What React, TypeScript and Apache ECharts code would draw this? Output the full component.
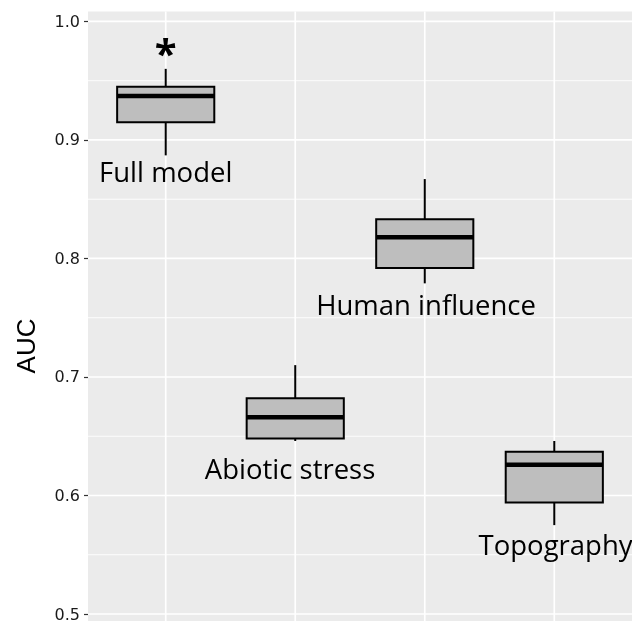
import React, { useEffect, useRef } from "react";
import * as echarts from "echarts";

// ---- data (in x-axis order) ----
const categories = ["Full model", "Abiotic stress", "Human influence", "Topography"];
const categoryPos = [1, 2, 3, 4];
const whiskerLow = [0.887, 0.646, 0.779, 0.575];
const q1 = [0.915, 0.648, 0.792, 0.594];
const medians = [0.937, 0.666, 0.818, 0.626];
const q3 = [0.945, 0.682, 0.833, 0.637];
const whiskerHigh = [0.96, 0.71, 0.867, 0.646];
const labelX = [1.0, 1.96, 3.01, 4.01];
const labelY = [0.873, 0.623, 0.761, 0.559];
const significance = ["*", "", "", ""];
const significanceY = [0.974, 0, 0, 0];
const yTicks = [0.5, 0.6, 0.7, 0.8, 0.9, 1.0];
const yMinorTicks = [0.55, 0.65, 0.75, 0.85, 0.95];

const Y_MIN = 0.4941;
const Y_MAX = 1.0084;
const X_MIN = 0.4;
const X_MAX = 4.6;
const BOX_WIDTH = 0.75;

export default function App() {
  const ref = useRef<HTMLDivElement>(null);

  useEffect(() => {
    if (!ref.current) return;
    const chart = echarts.init(ref.current, undefined, { renderer: "svg" });

    const boxData = categoryPos.map((x, i) => [
      x,
      whiskerLow[i],
      q1[i],
      medians[i],
      q3[i],
      whiskerHigh[i],
    ]);
    const labelData = categoryPos.map((x, i) => [labelX[i], labelY[i], i, x]);

    const option: any = {
      animation: false,
      grid: {
        left: 88,
        right: 0,
        top: 11.5,
        bottom: 0,
        show: true,
        backgroundColor: "#EBEBEB",
        borderWidth: 0,
      },
      xAxis: {
        type: "value",
        min: X_MIN,
        max: X_MAX,
        show: false,
        splitLine: { show: false },
      },
      yAxis: {
        type: "value",
        min: Y_MIN,
        max: Y_MAX,
        axisLine: { show: false },
        splitLine: { show: false },
        axisTick: {
          show: true,
          length: 4,
          customValues: yTicks,
          lineStyle: { color: "#333333", width: 1.2 },
        },
        axisLabel: {
          customValues: yTicks,
          formatter: (v: number) => v.toFixed(1),
          color: "#1a1a1a",
          fontSize: 16,
          fontFamily: "DejaVu Sans",
          margin: 8,
        },
      },
      graphic: [
        {
          type: "text",
          x: 26,
          y: 346,
          rotation: Math.PI / 2,
          style: {
            text: "AUC",
            fill: "#000",
            fontSize: 26,
            fontFamily: "Liberation Sans",
            align: "center",
            verticalAlign: "middle",
          },
        },
      ],
      series: [
        // horizontal grid lines (minor)
        {
          type: "custom",
          z: 1,
          silent: true,
          data: yMinorTicks.map((v) => [v]),
          renderItem: (params: any, api: any) => {
            const cs = params.coordSys;
            const p = api.coord([X_MIN, api.value(0)]);
            return {
              type: "line",
              shape: { x1: cs.x, y1: p[1], x2: cs.x + cs.width, y2: p[1] },
              style: { stroke: "#FFFFFF", lineWidth: 0.9 },
            };
          },
        },
        // horizontal grid lines (major)
        {
          type: "custom",
          z: 1,
          silent: true,
          data: yTicks.map((v) => [v]),
          renderItem: (params: any, api: any) => {
            const cs = params.coordSys;
            const p = api.coord([X_MIN, api.value(0)]);
            return {
              type: "line",
              shape: { x1: cs.x, y1: p[1], x2: cs.x + cs.width, y2: p[1] },
              style: { stroke: "#FFFFFF", lineWidth: 1.7 },
            };
          },
        },
        // vertical grid lines at categories
        {
          type: "custom",
          z: 1,
          silent: true,
          data: categoryPos.map((v) => [v]),
          renderItem: (params: any, api: any) => {
            const cs = params.coordSys;
            const p = api.coord([api.value(0), Y_MIN]);
            return {
              type: "line",
              shape: { x1: p[0], y1: cs.y, x2: p[0], y2: cs.y + cs.height },
              style: { stroke: "#FFFFFF", lineWidth: 1.7 },
            };
          },
        },
        // boxes
        {
          type: "custom",
          z: 3,
          silent: true,
          data: boxData,
          renderItem: (params: any, api: any) => {
            const x = api.value(0);
            const low = api.coord([x, api.value(1)]);
            const b1 = api.coord([x, api.value(2)]);
            const med = api.coord([x, api.value(3)]);
            const b3 = api.coord([x, api.value(4)]);
            const high = api.coord([x, api.value(5)]);
            const w = api.size([BOX_WIDTH, 0])[0];
            const left = low[0] - w / 2;
            return {
              type: "group",
              children: [
                {
                  type: "line",
                  shape: { x1: low[0], y1: b3[1], x2: low[0], y2: high[1] },
                  style: { stroke: "#000", lineWidth: 2 },
                },
                {
                  type: "line",
                  shape: { x1: low[0], y1: b1[1], x2: low[0], y2: low[1] },
                  style: { stroke: "#000", lineWidth: 2 },
                },
                {
                  type: "rect",
                  shape: { x: left, y: b3[1], width: w, height: b1[1] - b3[1] },
                  style: { fill: "#BEBEBE", stroke: "#000", lineWidth: 2 },
                },
                {
                  type: "line",
                  shape: { x1: left, y1: med[1], x2: left + w, y2: med[1] },
                  style: { stroke: "#000", lineWidth: 4.5 },
                },
              ],
            };
          },
        },
        // category labels + significance marks
        {
          type: "custom",
          z: 4,
          silent: true,
          data: labelData,
          renderItem: (params: any, api: any) => {
            const i = api.value(2);
            const p = api.coord([api.value(0), api.value(1)]);
            const children: any[] = [
              {
                type: "text",
                x: p[0],
                y: p[1],
                style: {
                  text: categories[i],
                  fill: "#000",
                  fontSize: 27.5,
                  fontFamily: "Open Sans",
                  align: "center",
                  verticalAlign: "middle",
                },
              },
            ];
            if (significance[i]) {
              const s = api.coord([api.value(3), significanceY[i]]);
              children.push({
                type: "text",
                x: s[0],
                y: s[1],
                style: {
                  text: significance[i],
                  fill: "#000",
                  fontSize: 40,
                  fontWeight: "bold",
                  fontFamily: "Open Sans",
                  align: "center",
                  verticalAlign: "middle",
                },
              });
            }
            return { type: "group", children };
          },
        },
      ],
    };

    chart.setOption(option);
    return () => chart.dispose();
  }, []);

  return (
    <div
      ref={ref}
      style={{ position: "fixed", left: 0, top: 0, width: 632, height: 622 }}
    />
  );
}
